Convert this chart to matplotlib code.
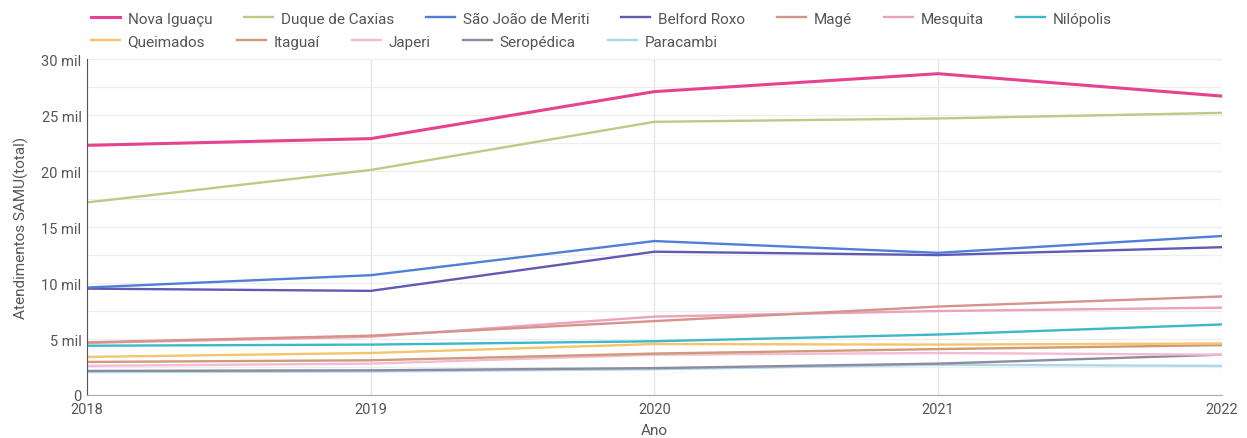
import matplotlib.pyplot as plt
import matplotlib.transforms as mtransforms
from matplotlib.ticker import FuncFormatter, MultipleLocator

plt.rcParams['font.family'] = ['Roboto', 'DejaVu Sans']

anos = [2018, 2019, 2020, 2021, 2022]

# atendimentos do SAMU por municipio (milhares)
nova_iguacu = [22.3, 22.9, 27.1, 28.7, 26.7]
duque_de_caxias = [17.2, 20.1, 24.4, 24.7, 25.2]
sao_joao_de_meriti = [9.6, 10.7, 13.75, 12.7, 14.2]
belford_roxo = [9.5, 9.3, 12.8, 12.5, 13.2]
mage = [4.7, 5.3, 6.6, 7.9, 8.8]
mesquita = [4.65, 5.2, 7.0, 7.5, 7.8]
nilopolis = [4.4, 4.5, 4.8, 5.4, 6.3]
queimados = [3.4, 3.75, 4.55, 4.5, 4.6]
itaguai = [2.95, 3.1, 3.7, 4.1, 4.45]
japeri = [2.6, 2.8, 3.6, 3.75, 3.6]
seropedica = [2.15, 2.2, 2.4, 2.8, 3.6]
paracambi = [2.05, 2.1, 2.3, 2.7, 2.6]

linha1 = [
    ('Nova Iguaçu', nova_iguacu, '#e6428f'),
    ('Duque de Caxias', duque_de_caxias, '#b9cc85'),
    ('São João de Meriti', sao_joao_de_meriti, '#4f7fd6'),
    ('Belford Roxo', belford_roxo, '#5e5ab5'),
    ('Magé', mage, '#d6938a'),
    ('Mesquita', mesquita, '#eaa2bd'),
    ('Nilópolis', nilopolis, '#3cb8c9'),
]
linha2 = [
    ('Queimados', queimados, '#f6c46b'),
    ('Itaguaí', itaguai, '#d09a78'),
    ('Japeri', japeri, '#f2bcd2'),
    ('Seropédica', seropedica, '#8d8c9e'),
    ('Paracambi', paracambi, '#acd6ec'),
]

fig = plt.figure(figsize=(12.47, 4.39), dpi=100)
ax = fig.add_axes([0.0698, 0.098, 0.91, 0.765])

handles1, handles2 = [], []
for nome, vals, cor in reversed(linha2):
    h, = ax.plot(anos, [v * 1000 for v in vals], color=cor, lw=1.7, label=nome)
    handles2.insert(0, h)
for nome, vals, cor in reversed(linha1):
    lw = 2.2 if nome == 'Nova Iguaçu' else 1.7
    h, = ax.plot(anos, [v * 1000 for v in vals], color=cor, lw=lw, label=nome)
    handles1.insert(0, h)

ax.set_xlim(2018, 2022)
ax.set_ylim(0, 30000)
ax.set_xticks(anos)
ax.yaxis.set_major_locator(MultipleLocator(5000))
ax.yaxis.set_minor_locator(MultipleLocator(2500))
ax.yaxis.set_major_formatter(FuncFormatter(lambda v, p: '0' if v == 0 else f'{int(v / 1000)} mil'))

ax.grid(axis='y', which='both', color='#eeeeee', lw=0.9)
ax.grid(axis='x', color='#e3e3e3', lw=0.9)
ax.set_axisbelow(True)
ax.tick_params(which='both', length=0, labelsize=10.5, colors='#555555')
ax.tick_params(axis='x', pad=5)
ax.tick_params(axis='y', pad=4)

# "0" sobe um pouco para nao colar no 2018
zero = ax.yaxis.get_major_ticks()[0].label1
zero.set_transform(zero.get_transform() + mtransforms.ScaledTranslation(0, 4 / 72, fig.dpi_scale_trans))

for s in ['top', 'right']:
    ax.spines[s].set_visible(False)
ax.spines['left'].set_color('#555555')
ax.spines['bottom'].set_color('#aaaaaa')

ax.set_xlabel('Ano', fontsize=11, color='#555555', labelpad=5)
ax.set_ylabel('Atendimentos SAMU(total)', fontsize=11, color='#555555', labelpad=9)

leg_kw = dict(loc='upper left', frameon=False, fontsize=11, handlelength=1.9,
              columnspacing=2.1, handletextpad=0.5, borderaxespad=0.0)
leg1 = fig.legend(handles=handles1, ncol=7, bbox_to_anchor=(0.068, 0.985), **leg_kw)
leg2 = fig.legend(handles=handles2, ncol=5, bbox_to_anchor=(0.068, 0.933), **leg_kw)
for leg in (leg1, leg2):
    for t in leg.get_texts():
        t.set_color('#555555')

fig.savefig('out.png', dpi=100)
